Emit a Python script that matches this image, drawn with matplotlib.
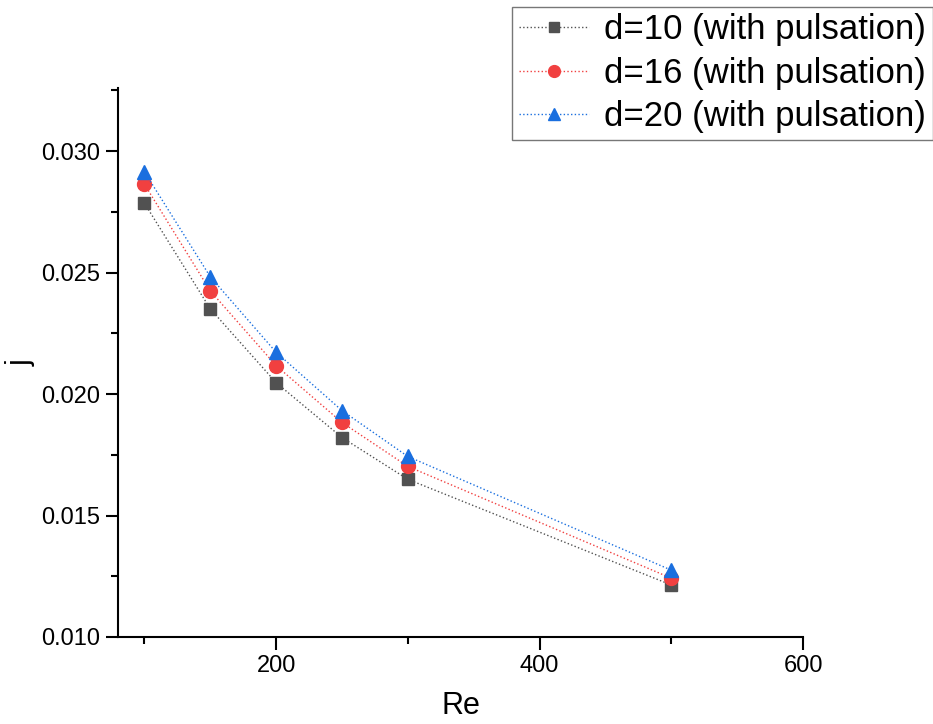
import matplotlib
matplotlib.use("Agg")
import matplotlib.pyplot as plt
from matplotlib.ticker import MultipleLocator, FormatStrFormatter

plt.rcParams['font.family'] = ['Liberation Sans', 'DejaVu Sans']

re = [100, 150, 200, 250, 300, 500]
j_d10 = [0.02786, 0.02351, 0.02047, 0.01821, 0.01649, 0.01214]
j_d16 = [0.02864, 0.02425, 0.02117, 0.01883, 0.01702, 0.01242]
j_d20 = [0.02915, 0.02483, 0.02172, 0.01932, 0.01743, 0.01275]
labels = ['d=10 (with pulsation)', 'd=16 (with pulsation)', 'd=20 (with pulsation)']

fig = plt.figure(figsize=(9.33, 7.24), dpi=100)
ax = fig.add_axes([0.1265, 0.1202, 0.7342, 0.7583])

ax.plot(re, j_d10, ls=':', lw=1, color='#515151', marker='s', ms=8, label=labels[0])
ax.plot(re, j_d16, ls=':', lw=1, color='#F14040', marker='o', ms=10, label=labels[1])
ax.plot(re, j_d20, ls=':', lw=1, color='#1A6FDF', marker='^', ms=10, label=labels[2])

ax.set_xlim(80, 600)
ax.set_ylim(0.010, 0.0326)
ax.xaxis.set_major_locator(MultipleLocator(200))
ax.xaxis.set_minor_locator(MultipleLocator(100))
ax.yaxis.set_major_locator(MultipleLocator(0.005))
ax.yaxis.set_minor_locator(MultipleLocator(0.0025))
ax.yaxis.set_major_formatter(FormatStrFormatter('%.3f'))

for s in ['top', 'right']:
    ax.spines[s].set_visible(False)
for s in ['left', 'bottom']:
    ax.spines[s].set_linewidth(1.5)

ax.tick_params(which='major', direction='out', length=9, width=1.5, labelsize=17, pad=4)
ax.tick_params(which='minor', direction='out', length=5, width=1.5)

ax.set_xlabel('Re', fontsize=22, labelpad=10)
ax.set_ylabel('j', fontsize=22)
ax.yaxis.set_label_coords(-0.12, 0.5)

leg = fig.legend(loc='upper right', bbox_to_anchor=(1.0, 0.991), fontsize=25,
                 frameon=True, fancybox=False, edgecolor='#555555',
                 handlelength=2.0, handletextpad=0.45, borderpad=0.2,
                 labelspacing=0.3, borderaxespad=0, markerscale=0.85)
leg.get_frame().set_linewidth(1)

fig.savefig('out.png', dpi=100)
